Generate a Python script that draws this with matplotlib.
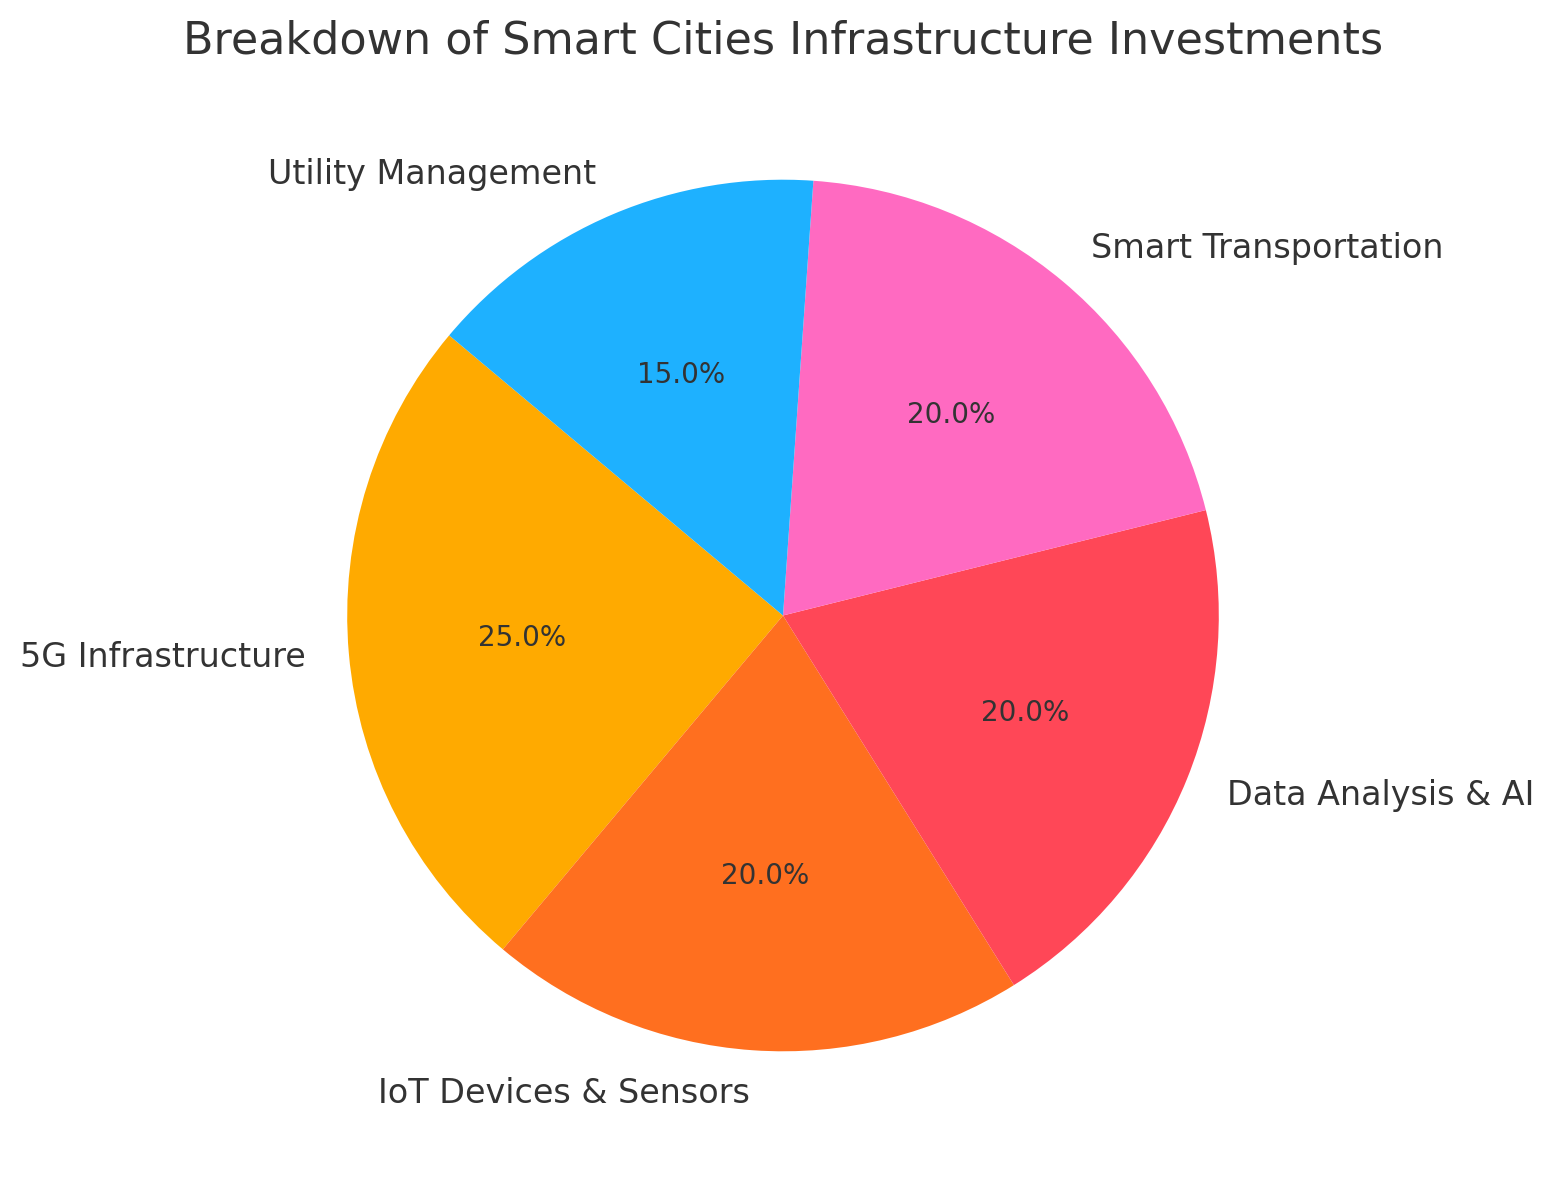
import matplotlib
matplotlib.use("Agg")
import matplotlib.pyplot as plt

labels = ["5G Infrastructure", "IoT Devices & Sensors", "Data Analysis & AI", "Smart Transportation", "Utility Management"]
values = [25, 20, 20, 20, 15]
colors = ["#FFAA00", "#FF6F1F", "#FF4757", "#FF6AC1", "#1EB1FF"]
title = "Breakdown of Smart Cities Infrastructure Investments"

W, H = 1555, 1180
fig = plt.figure(figsize=(W / 200, H / 200), dpi=200)
cx, cy, r = 783, 615.5, 435.8
half = r * 1.25
ax = fig.add_axes([(cx - half) / W, 1 - (cy + half) / H, 2 * half / W, 2 * half / H])
wedges, texts, autotexts = ax.pie(values, labels=labels, colors=colors, autopct="%1.1f%%", startangle=140,
                                  textprops={"fontsize": 12, "color": "#333333"})
for t in autotexts:
    t.set_fontsize(10)
ax.set_xlim(-1.25, 1.25)
ax.set_ylim(-1.25, 1.25)
fig.text(783 / W, 1 - 41 / H, title, fontsize=16, color="#333333", ha="center", va="center")
fig.savefig("out.png", dpi=200)
